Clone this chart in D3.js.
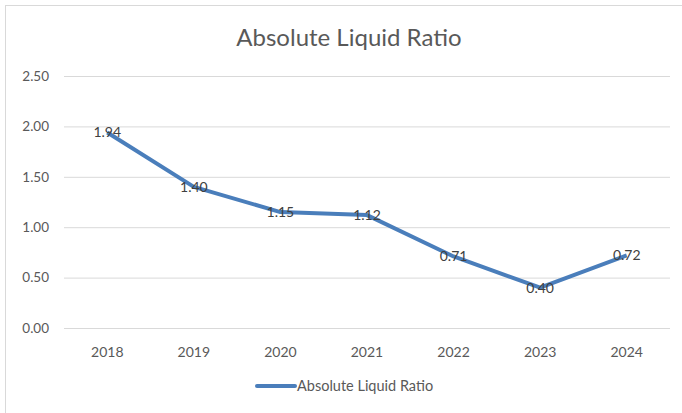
<!DOCTYPE html>
<html><head><meta charset="utf-8">
<script src="https://cdn.jsdelivr.net/npm/d3@7"></script>
<style>body{margin:0;background:#fff}svg{display:block;font-family:Lato,"Open Sans",sans-serif}</style>
</head><body><svg id="c" width="682" height="413"></svg>
<script>
const years = ["2018","2019","2020","2021","2022","2023","2024"];
const values = [1.94,1.40,1.15,1.12,0.71,0.40,0.72];
const yTicks = [0,0.5,1,1.5,2,2.5];
const title = "Absolute Liquid Ratio";
const seriesName = "Absolute Liquid Ratio";

const svg = d3.select("#c");
const color = "#4a7ebb";
svg.append("rect").attr("x",5.5).attr("y",5.5).attr("width",700).attr("height",420)
  .attr("fill","#fff").attr("stroke","#d9d9d9");

const x = d3.scalePoint().domain(years).range([64,670]).padding(0.5);
const y = d3.scaleLinear().domain([0,2.5]).range([328,76]);

svg.append("g").selectAll("line").data(yTicks).join("line")
  .attr("x1",64).attr("x2",670).attr("y1",d=>y(d)+0.5).attr("y2",d=>y(d)+0.5)
  .attr("stroke","#d9d9d9").attr("stroke-width",1);
svg.append("g").selectAll("text").data(yTicks).join("text")
  .attr("x",49).attr("y",d=>y(d)).attr("dy","0.35em").attr("text-anchor","end")
  .attr("font-size",13.5).attr("fill","#595959").text(d=>d3.format(".2f")(d));
svg.append("g").selectAll("text").data(years).join("text")
  .attr("x",d=>x(d)).attr("y",352).attr("dy","0.35em").attr("text-anchor","middle")
  .attr("font-size",14).attr("fill","#595959").text(d=>d);

svg.append("path").datum(values.map((v,i)=>[years[i],v]))
  .attr("d",d3.line().x(d=>x(d[0])).y(d=>y(d[1])))
  .attr("fill","none").attr("stroke",color).attr("stroke-width",4).attr("stroke-linejoin","round");

svg.append("g").selectAll("text").data(values).join("text")
  .attr("x",(d,i)=>x(years[i])).attr("y",d=>y(d)).attr("dy","0.35em").attr("text-anchor","middle")
  .attr("font-size",14).attr("fill","#404040").text(d=>d3.format(".2f")(d));

svg.append("text").attr("x",349).attr("y",38).attr("dy","0.35em").attr("text-anchor","middle")
  .attr("font-size",24).attr("fill","#595959").text(title);

svg.append("line").attr("x1",257).attr("x2",295).attr("y1",386).attr("y2",386)
  .attr("stroke",color).attr("stroke-width",4).attr("stroke-linecap","round");
svg.append("text").attr("x",297).attr("y",386).attr("dy","0.35em")
  .attr("font-size",14.5).attr("fill","#595959").text(seriesName);
</script></body></html>
